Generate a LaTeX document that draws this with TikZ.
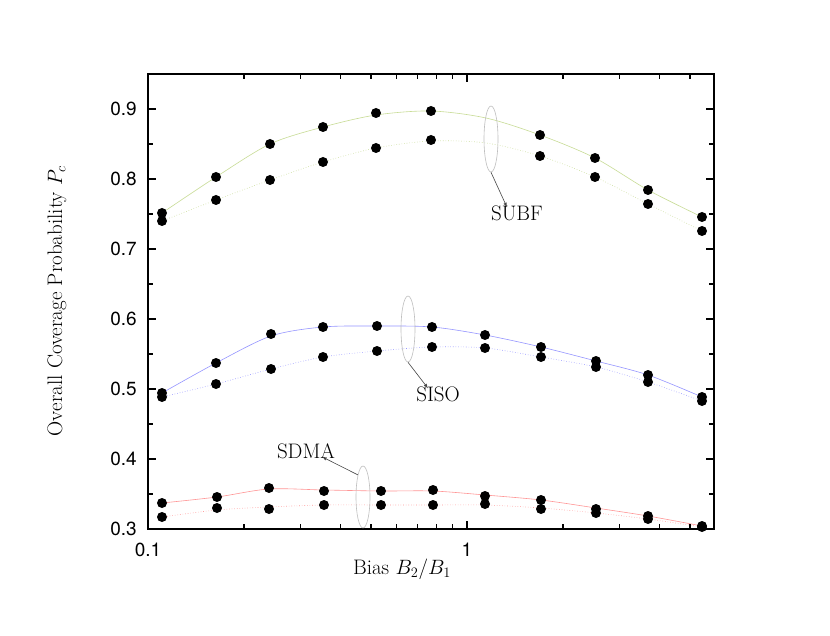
\documentclass[tikz,border=0pt]{standalone}
\usepackage{fontspec}
\usetikzlibrary{shapes.geometric}
\newfontfamily\tickfont{TeX Gyre Heros}
\begin{document}
\begin{tikzpicture}[x=1pt,y=-1pt,
  subf/.style={draw={rgb,255:red,200;green,220;blue,150},line width=0.6pt},
  siso/.style={draw={rgb,255:red,150;green,150;blue,255},line width=0.6pt},
  sdma/.style={draw={rgb,255:red,255;green,150;blue,150},line width=0.6pt},
  dots/.style={dotted},
  ell/.style={draw={rgb,255:red,190;green,190;blue,190},ellipse,minimum width=14pt,inner sep=0pt,line width=0.6pt},
  lbl/.style={font=\fontsize{21}{24}\selectfont,inner sep=0pt},
  tick/.style={font=\tickfont\fontsize{19}{22}\selectfont,inner sep=0pt},
  pointer/.style={-latex,draw={rgb,255:red,70;green,70;blue,70},line width=0.6pt}]
\useasboundingbox (0,0) rectangle (830,636);
\fill[white] (0,0) rectangle (830,636);
% curves
\draw[subf] plot[smooth] coordinates {(162,213)(216,177)(270,144)(323,127)(376,115)(431,111)(486,118)(540,135)(595,158)(648,190)(702,217)};
\draw[subf,dots] plot[smooth] coordinates {(162,221)(216,200)(270,180)(323,162)(376,148)(431,141)(486,143)(540,156)(595,177)(648,204)(702,231)};
\draw[siso] plot[smooth] coordinates {(162,393)(216,363)(271,336)(323,327)(377,326)(432,327)(485,335)(541,347)(596,361)(648,375)(702,397)};
\draw[siso,dots] plot[smooth] coordinates {(162,397)(216,384)(271,369)(323,357)(377,351)(432,347)(485,348)(541,357)(596,367)(648,382)(702,401)};
\draw[sdma] plot[smooth] coordinates {(162,503)(217,497)(269,489)(324,490)(381,491)(433,491)(485,495)(541,500)(596,508)(648,516)(702,526)};
\draw[sdma,dots] plot[smooth] coordinates {(162,517)(217,510)(269,507)(324,505)(381,505)(433,505)(485,505)(541,508)(596,513)(648,519)(702,527)};
% dots
\foreach \p in {(162,213),(216,177),(270,144),(323,127),(376,113),(431,111),(540,135),(595,158),(648,190),(702,217),
 (162,221),(216,200),(270,180),(323,162),(376,148),(431,140),(540,156),(595,177),(648,204),(702,231),
 (162,393),(216,363),(271,334),(323,327),(377,326),(432,327),(485,335),(541,347),(596,361),(648,375),(702,397),
 (162,397),(216,384),(271,369),(323,357),(377,351),(432,347),(485,348),(541,357),(596,367),(648,382),(702,401),
 (162,503),(217,497),(269,488),(324,491),(381,491),(433,490),(485,496),(541,500),(596,509),(648,516),(702,526),
 (162,517),(217,508),(269,509),(324,505),(381,505),(433,505),(485,504),(541,509),(596,513),(648,519),(702,527)}
 \fill \p circle (5);
% axes frame
\draw[line width=1.3pt] (148,74) rectangle (714,529);
% y ticks
\foreach \v/\t in {529/0.3,459/0.4,389/0.5,319/0.6,249/0.7,179/0.8,109/0.9}{
  \draw[line width=1.1pt] (148,\v) -- (156,\v) (714,\v) -- (706,\v);
  \node[tick,anchor=east] at (137,\v) {\t};}
\foreach \v in {494,424,354,284,214,144}{
  \draw[line width=1.1pt] (148,\v) -- (153,\v) (714,\v) -- (709,\v);}
% x ticks
\foreach \m in {2,3,4,5,6,7,8,9,20,30,40,50}{
  \pgfmathsetmacro\xx{148+319*log10(\m)}
  \draw[line width=1.1pt] (\xx,529) -- (\xx,524) (\xx,74) -- (\xx,79);}
\draw[line width=1.1pt] (467,529) -- (467,521) (467,74) -- (467,82);
\node[tick] (t01) at (148,550) {0.1};
\node[tick] (t1) at (467,550) {1};
% axis labels
\node[lbl] (xl) at (402,569) {Bias $B_2/B_1$};
\node[lbl,rotate=90] (yl) at (57,301) {Overall Coverage Probability $P_c$};
% annotations
\node[ell,minimum height=66pt] (e1) at (491,139) {};
\node[ell,minimum height=66pt] (e2) at (408,329) {};
\node[ell,minimum height=62pt] (e3) at (363,497) {};
\node[lbl] (l1) at (517,213) {SUBF};
\node[lbl] (l2) at (438,394) {SISO};
\node[lbl] (l3) at (306,451) {SDMA};
\draw[pointer] (e1.south) -- ([xshift=-10pt,yshift=-2pt]l1.north);
\draw[pointer] (e2.south) -- ([xshift=-10pt,yshift=-2pt]l2.north);
\draw[pointer] (e3.north west) -- ([xshift=16pt,yshift=2pt]l3.south);
\end{tikzpicture}
\end{document}
